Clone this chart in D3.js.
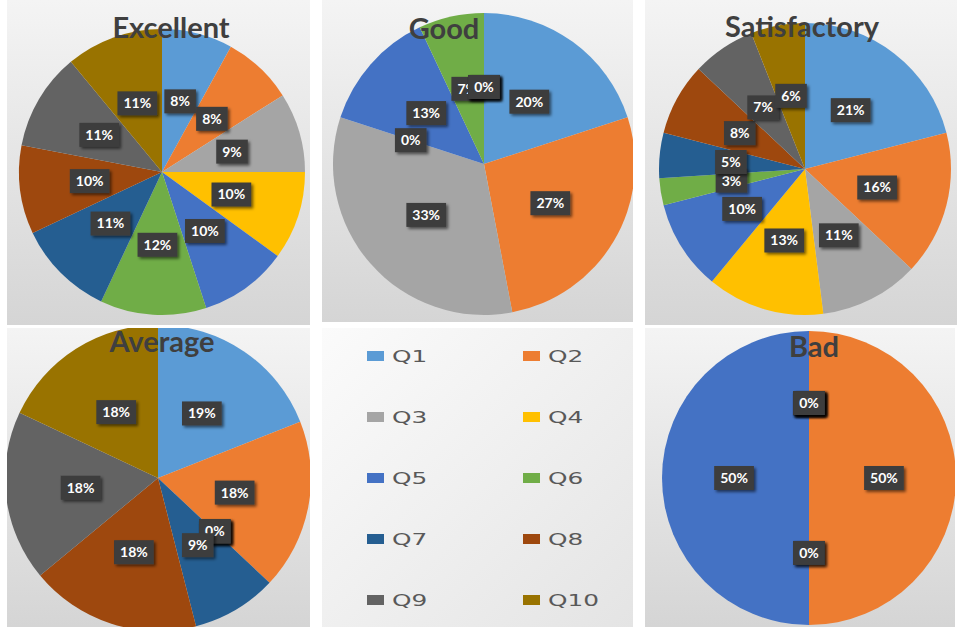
<!DOCTYPE html>
<html>
<head>
<meta charset="utf-8">
<script src="https://cdn.jsdelivr.net/npm/d3@7"></script>
<style>
  html, body { margin: 0; padding: 0; background: #ffffff; }
  svg { display: block; }
</style>
</head>
<body>
<svg id="chart" width="957" height="627"></svg>
<script>
// Question categories and their slice colours
const categories = ["Q1", "Q2", "Q3", "Q4", "Q5", "Q6", "Q7", "Q8", "Q9", "Q10"];
const sliceColors = ["#5B9BD5", "#ED7D31", "#A5A5A5", "#FFC000", "#4472C4",
                     "#70AD47", "#255E91", "#9E480E", "#636363", "#997300"];

// Share of answers (%) per question, one series per rating
const excellent    = [8, 8, 9, 10, 10, 12, 11, 10, 11, 11];
const good         = [20, 27, 33, 0, 13, 7, 0, 0, 0, 0];
const satisfactory = [21, 16, 11, 13, 10, 3, 5, 8, 7, 6];
const average      = [19, 18, 0, 0, 0, 0, 9, 18, 18, 18];
const bad          = [0, 50, 0, 0, 50, 0, 0, 0, 0, 0];

const ratingTitles = ["Excellent", "Good", "Satisfactory", "Average", "Bad"];
const ratingSeries = [excellent, good, satisfactory, average, bad];

// Panel frames and pie geometry
const panels = [
  { x: 7,   y: 0,   w: 303, h: 325, cx: 162, cy: 172, r: 143, tx: 171, ty: 38 },
  { x: 322, y: 0,   w: 311, h: 322, cx: 484, cy: 164, r: 151, tx: 444, ty: 39 },
  { x: 645, y: 0,   w: 312, h: 325, cx: 805, cy: 169, r: 146, tx: 802, ty: 37 },
  { x: 7,   y: 328, w: 303, h: 299, cx: 158, cy: 478, r: 153, tx: 162, ty: 352 },
  { x: 645, y: 328, w: 310, h: 299, cx: 809, cy: 478, r: 147, tx: 814, ty: 357 }
];
const legendPanel = { x: 322, y: 328, w: 311, h: 299 };

const svg = d3.select("#chart");
const defs = svg.append("defs");

const grad = defs.append("linearGradient").attr("id", "panelFill")
  .attr("x1", 0).attr("y1", 0).attr("x2", 0).attr("y2", 1);
grad.append("stop").attr("offset", "0%").attr("stop-color", "#f4f4f4");
grad.append("stop").attr("offset", "100%").attr("stop-color", "#d5d5d5");

const gradL = defs.append("linearGradient").attr("id", "legendFill")
  .attr("x1", 0).attr("y1", 0).attr("x2", 1).attr("y2", 1);
gradL.append("stop").attr("offset", "0%").attr("stop-color", "#fbfbfb");
gradL.append("stop").attr("offset", "100%").attr("stop-color", "#e4e4e4");

const shadow = defs.append("filter").attr("id", "boxShadow")
  .attr("x", "-30%").attr("y", "-30%").attr("width", "170%").attr("height", "170%");
shadow.append("feDropShadow").attr("dx", 2).attr("dy", 2).attr("stdDeviation", 1.5)
  .attr("flood-color", "#000").attr("flood-opacity", 0.55);

const pie = d3.pie().sort(null).value(d => d);
const fmt = v => v + "%";

panels.forEach((p, i) => {
  const values = ratingSeries[i];
  const clipId = "clip" + i;
  defs.append("clipPath").attr("id", clipId)
    .append("rect").attr("x", p.x).attr("y", p.y).attr("width", p.w).attr("height", p.h);

  svg.append("rect").attr("x", p.x).attr("y", p.y).attr("width", p.w).attr("height", p.h)
    .attr("fill", "url(#panelFill)");

  const g = svg.append("g").attr("clip-path", `url(#${clipId})`);
  const pg = g.append("g").attr("transform", `translate(${p.cx},${p.cy})`);

  const arcs = pie(values);
  const arc = d3.arc().innerRadius(0).outerRadius(p.r);
  const labelArc = d3.arc().innerRadius(p.r * 0.51).outerRadius(p.r * 0.51);

  pg.selectAll("path.slice").data(arcs).join("path")
    .attr("class", "slice")
    .attr("d", arc)
    .attr("fill", (d, j) => sliceColors[j]);

  // title sits over the pie
  g.append("text")
    .attr("x", p.tx).attr("y", p.ty)
    .attr("text-anchor", "middle")
    .attr("font-family", "Lato, 'Open Sans', sans-serif")
    .attr("font-weight", 700)
    .attr("font-size", 29)
    .attr("fill", "#3f3f3f")
    .text(ratingTitles[i]);

  // value labels, drawn in series order so later ones overlap earlier ones
  arcs.forEach((d, j) => {
    const [lx, ly] = labelArc.centroid(d);
    const lg = pg.append("g").attr("transform", `translate(${lx},${ly})`);
    const t = lg.append("text")
      .attr("text-anchor", "middle")
      .attr("dy", "0.35em")
      .attr("font-family", "Lato, 'Open Sans', sans-serif")
      .attr("font-weight", 700)
      .attr("font-size", 14)
      .attr("fill", "#ffffff")
      .text(fmt(values[j]));
    const w = t.node().getComputedTextLength() + 12;
    lg.insert("rect", "text")
      .attr("x", -w / 2).attr("y", -12)
      .attr("width", w).attr("height", 24)
      .attr("fill", "#3d3d3d")
      .attr("filter", "url(#boxShadow)");
  });
});

// legend panel
svg.append("rect").attr("x", legendPanel.x).attr("y", legendPanel.y)
  .attr("width", legendPanel.w).attr("height", legendPanel.h)
  .attr("fill", "url(#legendFill)");

const colX = d3.scalePoint().domain([0, 1]).range([367, 523]);
const rowY = d3.scalePoint().domain([0, 1, 2, 3, 4]).range([356, 600]);

const items = svg.append("g").selectAll("g").data(categories).join("g")
  .attr("transform", (d, i) => `translate(${colX(i % 2)},${rowY(Math.floor(i / 2))})`);
items.append("rect")
  .attr("x", 0).attr("y", -5).attr("width", 17).attr("height", 10)
  .attr("fill", (d, i) => sliceColors[i]);
items.append("text")
  .attr("transform", "translate(25,0) scale(1.55,1)")
  .attr("dy", "0.36em")
  .attr("font-family", "'DejaVu Sans', sans-serif")
  .attr("font-size", 16)
  .attr("fill", "#595959")
  .text(d => d);
</script>
</body>
</html>
